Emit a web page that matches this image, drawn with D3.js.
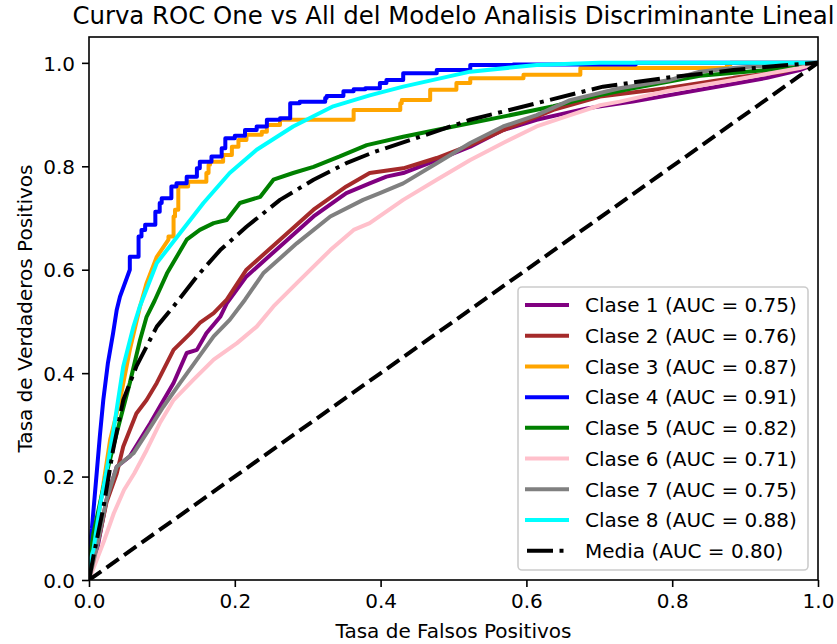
<!DOCTYPE html>
<html><head><meta charset="utf-8">
<script src="https://cdn.jsdelivr.net/npm/d3@7"></script>
<style>body{margin:0;background:#fff}text{font-family:"DejaVu Sans",sans-serif}</style>
</head><body><svg id="chart" width="837" height="644"></svg>
<script>
// ---------- data ----------
const titleText = "Curva ROC One vs All del Modelo Analisis Discriminante Lineal";
const xLabel = "Tasa de Falsos Positivos";
const yLabel = "Tasa de Verdaderos Positivos";
const classNames = ["Clase 1","Clase 2","Clase 3","Clase 4","Clase 5","Clase 6","Clase 7","Clase 8"];
const aucValues = [0.75,0.76,0.87,0.91,0.82,0.71,0.75,0.88];
const meanName = "Media";
const meanAuc = 0.80;
const xTicks = [0.0,0.2,0.4,0.6,0.8,1.0];
const yTicks = [0.0,0.2,0.4,0.6,0.8,1.0];

const fpr1 = [0,0.006,0.011,0.024,0.038,0.056,0.070,0.084,0.097,0.116,0.134,0.148,0.161,0.180,0.189,0.216,0.262,0.308,0.353,0.385,0.408,0.431,0.477,0.523,0.568,0.614,0.683,0.746,0.838,0.930,0.975,1];
const tpr1 = [0,0.030,0.058,0.155,0.219,0.239,0.271,0.303,0.335,0.381,0.439,0.445,0.477,0.509,0.535,0.587,0.645,0.703,0.748,0.767,0.780,0.787,0.812,0.838,0.870,0.890,0.912,0.925,0.948,0.971,0.986,1];

const fpr2 = [0,0.006,0.015,0.024,0.038,0.047,0.065,0.079,0.093,0.116,0.139,0.152,0.171,0.189,0.216,0.262,0.308,0.353,0.385,0.431,0.477,0.523,0.568,0.637,0.701,0.792,0.884,0.952,1];
const tpr2 = [0,0.040,0.090,0.150,0.206,0.258,0.322,0.348,0.381,0.445,0.477,0.497,0.516,0.542,0.600,0.658,0.716,0.761,0.787,0.796,0.816,0.841,0.870,0.909,0.935,0.951,0.971,0.983,1];

const fpr3 = [0,0,0.006,0.015,0.029,0.0425,0.056,0.070,0.079,0.093,0.109,0.116,0.118,0.1225,0.136,0.139,0.161,0.164,0.166,0.184,0.196,0.205,0.216,0.237,0.244,0.262,0.271,0.363,0.367,0.427,0.429,0.468,0.504,0.523,0.596,0.674,0.733,0.875,0.88,0.92,1];
const tpr3 = [0,0.040,0.070,0.142,0.271,0.348,0.445,0.529,0.574,0.625,0.658,0.664,0.703,0.716,0.761,0.770,0.770,0.787,0.803,0.809,0.822,0.838,0.851,0.861,0.867,0.880,0.890,0.890,0.909,0.909,0.922,0.928,0.948,0.961,0.970,0.977,0.990,0.990,0.997,1.0,1];

const fpr4 = [0,0,0.004,0.0105,0.015,0.0196,0.026,0.033,0.038,0.0425,0.056,0.068,0.072,0.077,0.091,0.097,0.0997,0.113,0.120,0.134,0.148,0.152,0.168,0.182,0.187,0.200,0.214,0.230,0.244,0.262,0.276,0.289,0.324,0.326,0.349,0.363,0.379,0.399,0.408,0.431,0.477,0.523,0.582,0.651,0.75,0.87,1];
const tpr4 = [0,0.050,0.100,0.206,0.280,0.348,0.420,0.477,0.522,0.548,0.600,0.625,0.664,0.677,0.687,0.712,0.729,0.738,0.761,0.767,0.780,0.796,0.809,0.819,0.835,0.854,0.859,0.870,0.877,0.890,0.893,0.922,0.925,0.932,0.936,0.945,0.949,0.951,0.961,0.967,0.980,0.986,0.996,0.997,0.997,1.0,1];

const fpr5 = [0,0,0.006,0.024,0.038,0.056,0.070,0.079,0.090,0.107,0.134,0.152,0.171,0.189,0.207,0.235,0.253,0.280,0.308,0.344,0.381,0.431,0.500,0.568,0.637,0.701,0.746,0.838,0.930,1];
const tpr5 = [0,0.030,0.090,0.206,0.284,0.381,0.464,0.509,0.540,0.593,0.658,0.677,0.690,0.696,0.729,0.741,0.774,0.787,0.799,0.819,0.841,0.857,0.877,0.896,0.916,0.938,0.951,0.975,0.986,1];

const fpr6 = [0,0.007,0.021,0.034,0.048,0.062,0.079,0.097,0.116,0.143,0.171,0.203,0.230,0.253,0.285,0.331,0.363,0.385,0.431,0.477,0.523,0.568,0.614,0.660,0.701,0.728,0.792,0.884,0.975,1];
const tpr6 = [0,0.026,0.077,0.129,0.174,0.206,0.251,0.303,0.348,0.387,0.426,0.458,0.490,0.529,0.574,0.638,0.677,0.690,0.735,0.774,0.812,0.845,0.877,0.899,0.918,0.925,0.945,0.967,0.990,1];

const fpr7 = [0,0.006,0.011,0.024,0.038,0.061,0.079,0.102,0.125,0.148,0.171,0.193,0.214,0.239,0.285,0.331,0.376,0.399,0.431,0.477,0.523,0.568,0.614,0.660,0.728,0.797,0.838,0.884,0.950,1];
const tpr7 = [0,0.035,0.065,0.155,0.219,0.245,0.284,0.335,0.381,0.426,0.471,0.503,0.542,0.593,0.651,0.703,0.735,0.748,0.767,0.806,0.845,0.877,0.899,0.928,0.951,0.967,0.983,0.990,0.997,1];

const fpr8 = [0,0,0.006,0.015,0.024,0.033,0.047,0.061,0.070,0.093,0.125,0.157,0.193,0.230,0.280,0.335,0.385,0.431,0.523,0.614,0.700,1];
const tpr8 = [0,0.030,0.058,0.142,0.210,0.284,0.413,0.490,0.530,0.613,0.671,0.729,0.787,0.832,0.877,0.916,0.937,0.954,0.983,0.996,1.0,1];

const fprMean = [0,0.006,0.020,0.033,0.047,0.065,0.093,0.116,0.148,0.180,0.216,0.262,0.308,0.353,0.390,0.454,0.523,0.614,0.705,0.797,0.884,0.950,1];
const tprMean = [0,0.045,0.142,0.251,0.348,0.413,0.490,0.529,0.587,0.638,0.683,0.735,0.774,0.806,0.827,0.857,0.890,0.922,0.954,0.972,0.986,0.995,1];

const chanceFpr = [0,1];
const chanceTpr = [0,1];

// ---------- styles ----------
const colors = ["purple","brown","orange","blue","green","pink","gray","cyan"];
// staircase drawing (vertical then horizontal) above this TPR; null = straight segments
const stepFrom = [null,null,0.65,0.6,null,null,null,null];
const fprs = [fpr1,fpr2,fpr3,fpr4,fpr5,fpr6,fpr7,fpr8];
const tprs = [tpr1,tpr2,tpr3,tpr4,tpr5,tpr6,tpr7,tpr8];

const L = 89, R = 818, T = 37, B = 580;
const FS = 20;

const svg = d3.select("#chart");
const x = d3.scaleLinear().domain([0,1]).range([L,R]);
const y = d3.scaleLinear().domain([0,1.05]).range([B,T]);

svg.append("defs").append("clipPath").attr("id","clip")
  .append("rect").attr("x",L).attr("y",T).attr("width",R-L).attr("height",B-T);

const plot = svg.append("g").attr("clip-path","url(#clip)");

function drawLine(fx, ty, opts){
  const pts = [];
  fx.forEach((v,i)=>{
    if (opts.stepFrom != null && i > 0 && ty[i-1] >= opts.stepFrom) pts.push([fx[i-1], ty[i]]);
    pts.push([v, ty[i]]);
  });
  const gen = d3.line().x(d=>x(d[0])).y(d=>y(d[1]));
  plot.append("path").attr("d",gen(pts)).attr("fill","none")
    .attr("stroke",opts.color).attr("stroke-width",4)
    .attr("stroke-linejoin","round")
    .attr("stroke-linecap", opts.dash ? "butt" : "square")
    .attr("stroke-dasharray", opts.dash || null);
}

fprs.forEach((f,i)=>drawLine(f,tprs[i],{color:colors[i],stepFrom:stepFrom[i]}));
drawLine(fprMean,tprMean,{color:"black",dash:"26,6.5,4,6.5"});
drawLine(chanceFpr,chanceTpr,{color:"black",dash:"15,6.5"});

// axes
const xAxis = d3.axisBottom(x).tickValues(xTicks).tickFormat(d3.format(".1f")).tickSize(7).tickPadding(7);
const yAxis = d3.axisLeft(y).tickValues(yTicks).tickFormat(d3.format(".1f")).tickSize(7).tickPadding(7);
const gx = svg.append("g").attr("transform",`translate(0,${B})`).call(xAxis);
const gy = svg.append("g").attr("transform",`translate(${L},0)`).call(yAxis);
[gx,gy].forEach(g=>{
  g.select(".domain").remove();
  g.selectAll(".tick line").attr("stroke","black").attr("stroke-width",1.6);
  g.selectAll(".tick text").attr("fill","black").style("font-size",FS+"px").style("font-family","DejaVu Sans");
});
gx.selectAll(".tick text").attr("dy","0.71em");
gy.selectAll(".tick text").attr("dy","0.36em");

svg.append("rect").attr("x",L).attr("y",T).attr("width",R-L).attr("height",B-T)
  .attr("fill","none").attr("stroke","black").attr("stroke-width",1.6);

// labels
svg.append("text").attr("x",(L+R)/2).attr("y",24).attr("text-anchor","middle")
  .style("font-size","24.4px").text(titleText);
svg.append("text").attr("x",(L+R)/2).attr("y",638).attr("text-anchor","middle")
  .style("font-size",FS+"px").text(xLabel);
svg.append("text").attr("transform",`translate(32,${(T+B)/2}) rotate(-90)`).attr("text-anchor","middle")
  .style("font-size",FS+"px").text(yLabel);

// legend
const lg = svg.append("g");
const lx = 518, ly = 287, lw = 290, lh = 283;
lg.append("rect").attr("x",lx).attr("y",ly).attr("width",lw).attr("height",lh)
  .attr("rx",4).attr("fill","white").attr("fill-opacity",0.8)
  .attr("stroke","#cccccc").attr("stroke-width",1.6);
const entries = classNames.map((n,i)=>({label:`${n} (AUC = ${aucValues[i].toFixed(2)})`,color:colors[i],dash:null}));
entries.push({label:`${meanName} (AUC = ${meanAuc.toFixed(2)})`,color:"black",dash:"26,6.5,4,6.5"});
const rowY = d3.scaleLinear().domain([0,8]).range([305,550.7]);
entries.forEach((e,i)=>{
  const yy = rowY(i);
  lg.append("line").attr("x1",527).attr("x2",e.dash?569:567).attr("y1",yy).attr("y2",yy)
    .attr("stroke",e.color).attr("stroke-width",4)
    .attr("stroke-linecap",e.dash?"butt":"square")
    .attr("stroke-dasharray",e.dash);
  lg.append("text").attr("x",585).attr("y",yy+7.3).style("font-size",FS+"px").attr("fill","black").text(e.label);
});
</script></body></html>
